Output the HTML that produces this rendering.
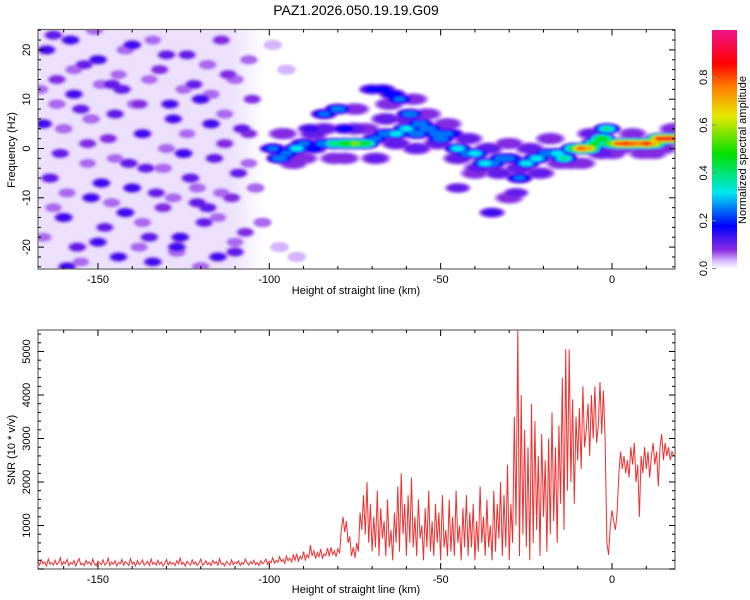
<!DOCTYPE html>
<html><head><meta charset="utf-8"><style>
html,body{margin:0;padding:0;background:#fff;}
svg{display:block;font-family:"Liberation Sans",sans-serif;}
</style></head><body>
<svg id="chart" width="750" height="600" viewBox="0 0 750 600" xmlns="http://www.w3.org/2000/svg">
<defs>
<clipPath id="clipTop"><rect x="38" y="29.5" width="637" height="239.5"/></clipPath>
<clipPath id="clipBot"><rect x="38" y="330" width="637" height="239"/></clipPath>
<filter id="blur" x="-20%" y="-20%" width="140%" height="140%"><feGaussianBlur stdDeviation="1.3"/></filter>
<linearGradient id="bgFade" x1="0" y1="0" x2="1" y2="0">
<stop offset="0" stop-color="#ece0fc"/><stop offset="0.84" stop-color="#ece0fc"/><stop offset="1" stop-color="#ffffff"/>
</linearGradient>
<linearGradient id="cbGrad" x1="0" y1="1" x2="0" y2="0">
<stop offset="0" stop-color="#ffffff"/><stop offset="0.03" stop-color="#dcc4ff"/>
<stop offset="0.08" stop-color="#8a2be2"/><stop offset="0.18" stop-color="#0000ff"/>
<stop offset="0.32" stop-color="#00e8f0"/><stop offset="0.48" stop-color="#00e000"/>
<stop offset="0.64" stop-color="#e8e800"/><stop offset="0.76" stop-color="#ff8000"/>
<stop offset="0.86" stop-color="#ff0000"/><stop offset="1" stop-color="#f01488"/>
</linearGradient>
</defs>
<text x="356" y="15" text-anchor="middle" font-size="14">PAZ1.2026.050.19.19.G09</text>
<g id="topPlot"></g>
<g id="botPlot"></g>
<g id="cbar">
<rect x="712" y="30" width="25" height="239" fill="url(#cbGrad)"/>
</g>
<text transform="translate(746,150) rotate(-90)" text-anchor="middle" font-size="11">Normalized spectral amplitude</text>
<text transform="translate(15,150) rotate(-90)" text-anchor="middle" font-size="11">Frequency (Hz)</text>
<text x="356" y="294" text-anchor="middle" font-size="11">Height of straight line (km)</text>
<text transform="translate(15,450) rotate(-90)" text-anchor="middle" font-size="11">SNR (10 * v/v)</text>
<text x="356" y="593" text-anchor="middle" font-size="11">Height of straight line (km)</text>
</svg>
<script>
// ---------- data ----------
const xTicks = [-150, -100, -50, 0];
const freqTicks = [20, 10, 0, -10, -20];
const snrTicks = [1000, 2000, 3000, 4000, 5000];
const cbTicks = [0.0, 0.2, 0.4, 0.6, 0.8];

const noiseX = [-165,-162,-158,-155,-150,-147,-143,-140,-136,-132,-128,-124,-120,-116,-112,-108,-104,
-164,-160,-156,-152,-148,-144,-140,-135,-131,-127,-123,-119,-115,-111,-107,
-166,-161,-157,-153,-149,-145,-141,-137,-133,-129,-125,-121,-117,-113,-109,-105,
-163,-159,-154,-150,-146,-142,-138,-134,-130,-126,-122,-118,-114,-110,-106,-102];
const noiseY = [20,14,22,8,18,2,12,21,-4,16,6,19,10,-2,15,4,-8,
-6,-14,-20,-10,-16,-22,-8,-18,-12,-20,-6,-15,-22,-10,-17,
5,-1,11,1,-7,7,-3,3,-9,9,-1,-11,5,1,-5,10,
23,-24,17,-19,13,-13,9,-23,19,-18,13,-12,22,-21,3,-15];
const noiseA = [0.14,0.1,0.15,0.12,0.16,0.1,0.13,0.15,0.12,0.1,0.14,0.11,0.16,0.12,0.1,0.12,0.08,
0.13,0.16,0.12,0.15,0.11,0.14,0.16,0.12,0.1,0.15,0.13,0.11,0.14,0.1,0.09,
0.15,0.12,0.14,0.1,0.16,0.12,0.13,0.15,0.11,0.14,0.16,0.12,0.15,0.1,0.12,0.09,
0.12,0.15,0.11,0.14,0.13,0.16,0.1,0.14,0.12,0.15,0.11,0.13,0.1,0.12,0.09,0.08];

const noise2X = [-167,-163,-160,-157,-153,-151,-146,-144,-139,-137,-134,-130,-127,-125,-121,-118,-115,-113,-110,-106,
-166,-162,-159,-155,-152,-149,-145,-142,-138,-135,-131,-128,-124,-120,-117,-114,-110,-106,-99,-95,-97,-92];
const noise2Y = [12,-12,4,16,-3,24,-11,15,9,-15,22,0,-21,12,-8,17,-14,7,-19,18,
-18,9,-9,-23,6,13,-2,20,-20,14,-4,-10,3,-24,11,-9,14,-3,21,16,-20,-22];
const noise2A = [0.07,0.06,0.08,0.07,0.06,0.08,0.07,0.06,0.08,0.07,0.06,0.07,0.08,0.06,0.07,0.08,0.06,0.07,0.06,0.07,
0.06,0.08,0.07,0.06,0.08,0.07,0.06,0.08,0.07,0.06,0.08,0.07,0.06,0.08,0.07,0.06,0.07,0.06,0.05,0.05,0.05,0.05];

const haloX = [-96,-90,-84,-78,-72,-66,-60,-54,-48,-42,-36,-30,-24,-18,-12,-6,0,6,12,18,
-93,-87,-81,-75,-69,-63,-57,-51,-45,-39,-33,-27,-21,-15,-9,-3,3,9,15,
-75,-65,-58,-40,-30];
const haloY = [3,-2,4,-2,4,6,6,7,5,2,0,1,0,2,-3,3,-1,3,-1,4,
-3,3,-2,4,-2,1,0,1,-2,-4,-5,-4,-5,-3,-3,-1,0,-1,0,
8,9,10,-5,-10];
const haloA = [0.1,0.09,0.11,0.1,0.1,0.12,0.11,0.1,0.1,0.11,0.12,0.1,0.11,0.1,0.1,0.11,0.1,0.09,0.09,0.1,
0.1,0.11,0.1,0.12,0.11,0.12,0.12,0.11,0.12,0.11,0.12,0.12,0.11,0.1,0.1,0.11,0.09,0.09,0.09,
0.1,0.1,0.1,0.09,0.09];

const ridgeX = [-99,-97,-95,-92,-90,-87,-84,-81,-78,-75,-72,-69,
-84,-80,-70,-67,-64,-62,-59,-56,-53,-50,-47,
-66,-63,-60,-57,-54,-51,-48,-45,-42,-40,-37,-35,-32,-30,-27,-25,-22,-19,-16,-14,-11,-9,-7,-5,-3,-1.5,0,
2,4,6,8,10,12,14,16,18,
-45,-35,-28,-78,-88];
const ridgeY = [0,-2,-1,0,1,0,1,1,1,1,1,2,
7,8,12,12,11,10,7,5,4,2,3,
3,3,4,3,4,3,3,0,-1,-1,-3,-3,-2,-2,-6,-3,-2,-1,-1,-2,0,0,0,1,2,4,1,
1,1,1,1,1,1,2,2,2,
-8,-13,-9,4,4];
const ridgeA = [0.25,0.3,0.25,0.35,0.25,0.2,0.3,0.45,0.55,0.6,0.5,0.25,
0.25,0.3,0.18,0.2,0.22,0.25,0.3,0.3,0.25,0.3,0.2,
0.3,0.35,0.35,0.3,0.3,0.3,0.25,0.35,0.3,0.35,0.35,0.3,0.3,0.25,0.25,0.35,0.35,0.3,0.35,0.4,0.5,0.85,0.75,0.5,0.55,0.4,0.6,
0.85,0.9,0.85,0.8,0.9,0.75,0.9,0.92,0.9,
0.12,0.15,0.12,0.2,0.15];

const snrStart = -167.5, snrStep = 0.5;
const snrValues = [
180,90,210,120,160,70,230,110,150,90,
200,100,140,260,90,170,120,220,80,150,
110,190,70,160,240,100,130,80,200,120,
160,90,230,110,70,180,140,100,210,90,
130,250,80,160,110,190,70,150,120,220,
90,170,130,80,240,110,160,70,190,100,
140,210,90,120,180,80,230,110,150,90,
200,100,160,70,130,220,90,170,110,140,
80,190,120,250,100,150,70,180,130,90,
210,110,160,80,140,230,90,120,190,100,
150,80,200,120,170,90,240,110,130,70,
180,130,90,210,100,160,120,190,80,150,
110,230,140,90,170,120,200,100,150,80,
190,120,160,230,110,180,140,260,130,200,
150,280,170,220,130,300,190,250,160,320,
200,350,180,290,230,400,210,330,260,550,
300,420,240,380,280,460,250,350,310,480,
290,500,330,420,280,470,360,900,1200,850,
1100,600,750,300,500,250,600,400,1300,900,
1700,800,2000,600,1500,400,1200,500,1800,300,
1400,700,1100,300,1600,500,900,200,1300,600,
1900,400,2200,800,1500,300,1700,600,2100,500,
1200,300,1600,700,1000,200,1400,500,1800,400,
1100,300,1500,600,1300,200,1700,500,900,300,
1600,400,1200,300,1800,600,1000,200,1400,500,
1700,300,1300,500,1500,200,1100,400,1900,600,
1200,300,1600,500,1000,200,1800,400,1500,700,
2000,300,1700,500,2400,200,1500,600,3500,1000,
5500,300,4000,800,3200,500,2800,200,3800,600,
3400,900,2600,300,3100,1200,2500,400,3000,800,
3600,1100,2800,600,3300,1500,4400,900,5050,1800,
5050,2000,3900,1500,3500,2500,3700,2300,4200,2800,
3200,3800,2600,4000,3000,4200,2900,3300,4300,3100,
4100,3000,600,320,1000,1350,1100,900,1300,2200,
2700,2300,2600,2200,2500,2100,2800,2400,2900,2000,
2400,1200,2600,2200,2800,2300,2700,2100,2600,2900,
2400,2700,1900,2800,3100,2500,2900,2600,2800,2500,
2700,2600];

// ---------- scales ----------
const NS = 'http://www.w3.org/2000/svg';
const xs = k => 612 + k * 3.427;
const yf = h => 148.5 - h * 4.93;
const ys = v => 569 - v * 0.0435;
const cbY = v => 268.5 - v * 239;

const stops = [[0,[255,255,255]],[0.03,[220,196,255]],[0.08,[138,43,226]],[0.18,[0,0,255]],[0.32,[0,232,240]],[0.48,[0,224,0]],[0.64,[232,232,0]],[0.76,[255,128,0]],[0.86,[255,0,0]],[1,[240,20,136]]];
function cmap(v){
  for(let i=1;i<stops.length;i++){
    if(v<=stops[i][0]){const a=stops[i-1],b=stops[i];const t=(v-a[0])/(b[0]-a[0]);
      const c=a[1].map((x,j)=>Math.round(x+(b[1][j]-x)*t));return `rgb(${c[0]},${c[1]},${c[2]})`;}
  }
  return 'rgb(240,20,136)';
}
function mk(tag, attrs, parent){const e=document.createElementNS(NS,tag);for(const k in attrs)e.setAttribute(k,attrs[k]);parent.appendChild(e);return e;}

// ---------- top panel ----------
const topG = document.getElementById('topPlot');
const heat = mk('g',{'clip-path':'url(#clipTop)',filter:'url(#blur)'},topG);


mk('rect',{x:38,y:29.5,width:xs(-101)-38,height:239.5,fill:'url(#bgFade)'},heat);
const levels=[0.035,0.06,0.085,0.11,0.14,0.18,0.25,0.32,0.4,0.48,0.56,0.64,0.72,0.8,0.86,0.92];
const groups=[[noise2X,noise2Y,noise2A,9,5,'noise-patch'],[noiseX,noiseY,noiseA,9,5,'noise-blob'],[haloX,haloY,haloA,14,6,'ridge-halo'],[ridgeX,ridgeY,ridgeA,12,5,'ridge-blob']];
levels.forEach(l=>{
  groups.forEach(([X,Y,A,rx0,ry0,name])=>{
    for(let i=0;i<X.length;i++){
      const a=A[i]; if(l>a) continue;
      const s=1.3*Math.pow(1-l/(a+0.06),0.6);
      const e=mk('ellipse',{cx:xs(X[i]),cy:yf(Y[i]),rx:rx0*s,ry:ry0*s,fill:cmap(l)},heat);
      
      
    }
  });
});

function frame(g,x0,y0,x1,y1,yMin,yMax,yMinorStep,yMajor,yScale,yLabels,prefix){
  mk('rect',{x:x0,y:y0,width:x1-x0,height:y1-y0,fill:'none',stroke:'#666','stroke-width':1.2},g);
  for(let k=-160;k<=18;k+=10){
    const x=xs(k); if(x<x0||x>x1) continue;
    const L=(k%50===0)?6:3;
    mk('line',{x1:x,y1:y1,x2:x,y2:y1-L,stroke:'#000'},g);
    mk('line',{x1:x,y1:y0,x2:x,y2:y0+L,stroke:'#000'},g);
  }
  for(let v=yMin;v<=yMax+1e-9;v+=yMinorStep){
    const y=yScale(v); if(y<y0||y>y1) continue;
    const maj=Math.abs(v/yMajor-Math.round(v/yMajor))<1e-6;
    const L=maj?6:3;
    mk('line',{x1:x0,y1:y,x2:x0+L,y2:y,stroke:'#000'},g);
    mk('line',{x1:x1,y1:y,x2:x1-L,y2:y,stroke:'#000'},g);
  }
  xTicks.forEach(k=>{
    const t=mk('text',{x:xs(k),y:y1+14,'text-anchor':'middle','font-size':11},g);t.textContent=k;
    
    
  });
  yLabels.forEach(v=>{
    const t=mk('text',{transform:`translate(${x0-8},${yScale(v)}) rotate(-90)`,'text-anchor':'middle','font-size':11},g);t.textContent=v;
    
    
  });
}
frame(topG,38,29.5,675,269,-24,24,2,10,yf,freqTicks,'top');

// ---------- bottom panel ----------
const bot=document.getElementById('botPlot');
let d='';
snrValues.forEach((v,i)=>{const k=snrStart+i*snrStep;d+=(i?'L':'M')+xs(k).toFixed(1)+','+ys(v).toFixed(1);});
const line=mk('path',{d:d,fill:'none',stroke:'#f03030','stroke-width':1,'clip-path':'url(#clipBot)'},bot);


frame(bot,38,330,675,569,0,5400,200,1000,ys,snrTicks,'bottom');

// ---------- colorbar ----------
const cb=document.getElementById('cbar');
cbTicks.forEach(v=>{
  const t=mk('text',{transform:`translate(707,${cbY(v)}) rotate(-90)`,'text-anchor':'middle','font-size':11},cb);t.textContent=v.toFixed(1);
  
  
  mk('line',{x1:712,y1:cbY(v),x2:716,y2:cbY(v),stroke:'#888'},cb);
});
</script>
</body></html>
